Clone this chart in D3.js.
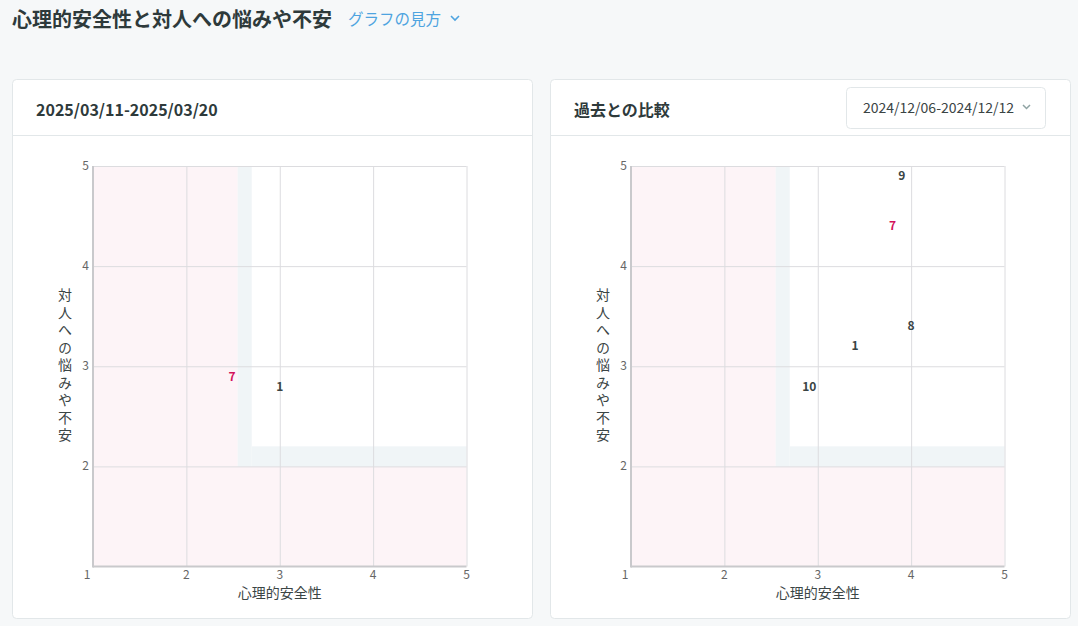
<!DOCTYPE html>
<html>
<head>
<meta charset="utf-8">
<script src="https://cdn.jsdelivr.net/npm/d3@7"></script>
<style>
  html, body { margin: 0; padding: 0; background: #f6f8f9; }
  svg { display: block; font-family: "Noto Sans CJK JP", "Noto Sans", sans-serif; }
</style>
</head>
<body>
<svg id="chart" width="1078" height="626"></svg>
<script>
// data
var axisTicks = [1, 2, 3, 4, 5];
var currentIds = ["7", "1"];
var currentX = [2.49, 3.0];
var currentY = [2.89, 2.79];
var compareIds = ["9", "7", "8", "1", "10"];
var compareX = [3.9, 3.8, 4.0, 3.4, 2.91];
var compareY = [4.9, 4.4, 3.4, 3.2, 2.79];
var highlightId = "7";
// zone limits (psychological safety / anxiety)
var safetyLow = 2.55, safetyBand = 2.7;
var anxietyLow = 2.0, anxietyBand = 2.2;

var svg = d3.select("#chart");

var textDark = "#2e3a3b";

// page title
svg.append("text").attr("x", 12).attr("y", 27)
    .attr("font-size", 20).attr("font-weight", 700).attr("fill", textDark)
    .text("心理的安全性と対人への悩みや不安");
svg.append("text").attr("x", 348).attr("y", 25)
    .attr("font-size", 15.5).attr("fill", "#4ea4e0")
    .text("グラフの見方");
svg.append("path").attr("d", "M451,16 l4,4 l4,-4")
    .attr("fill", "none").attr("stroke", "#4ea4e0").attr("stroke-width", 1.6);

function card(left, title) {
    var g = svg.append("g").attr("transform", "translate(" + left + ",79)");
    g.append("rect").attr("x", 0.5).attr("y", 0.5).attr("width", 520).attr("height", 539)
        .attr("rx", 4).attr("fill", "#fff").attr("stroke", "#e2e7e9");
    g.append("line").attr("x1", 1).attr("x2", 520).attr("y1", 56.5).attr("y2", 56.5)
        .attr("stroke", "#e2e7e9");
    g.append("text").attr("x", 24).attr("y", 37)
        .attr("font-size", 16).attr("font-weight", 700).attr("fill", textDark)
        .text(title);
    return g;
}

function scatter(g, ids, xs, ys) {
    var x = d3.scaleLinear().domain([1, 5]).range([81, 454.5]);
    var y = d3.scaleLinear().domain([1, 5]).range([487.5, 87]);

    var zones = g.append("g");
    // pink zones
    zones.append("rect").attr("x", x(1)).attr("y", y(5))
        .attr("width", x(safetyLow) - x(1)).attr("height", y(anxietyLow) - y(5))
        .attr("fill", "#fdf4f7");
    zones.append("rect").attr("x", x(1)).attr("y", y(anxietyLow))
        .attr("width", x(5) - x(1)).attr("height", y(1) - y(anxietyLow))
        .attr("fill", "#fdf4f7");
    // grey border band
    zones.append("rect").attr("x", x(safetyLow)).attr("y", y(5))
        .attr("width", x(safetyBand) - x(safetyLow)).attr("height", y(anxietyLow) - y(5))
        .attr("fill", "#f0f5f7");
    zones.append("rect").attr("x", x(safetyBand)).attr("y", y(anxietyBand))
        .attr("width", x(5) - x(safetyBand)).attr("height", y(anxietyLow) - y(anxietyBand))
        .attr("fill", "#f0f5f7");

    // grid
    g.append("g").selectAll("line.v").data(axisTicks.slice(1)).enter().append("line")
        .attr("x1", function(d){ return x(d) + 0.5; }).attr("x2", function(d){ return x(d) + 0.5; })
        .attr("y1", y(5)).attr("y2", y(1))
        .attr("stroke", "#dcdcdf");
    g.append("g").selectAll("line.h").data(axisTicks.slice(1)).enter().append("line")
        .attr("y1", function(d){ return y(d) + 0.5; }).attr("y2", function(d){ return y(d) + 0.5; })
        .attr("x1", x(1)).attr("x2", x(5))
        .attr("stroke", "#dcdcdf");

    // axis lines
    g.append("line").attr("x1", x(1)).attr("x2", x(1)).attr("y1", y(5)).attr("y2", y(1) + 1)
        .attr("stroke", "#c9c9cc").attr("stroke-width", 2);
    g.append("line").attr("x1", x(1)).attr("x2", x(5)).attr("y1", y(1)).attr("y2", y(1))
        .attr("stroke", "#c9c9cc").attr("stroke-width", 2);

    // tick labels
    g.append("g").selectAll("text").data(axisTicks).enter().append("text")
        .attr("x", function(d){ return d === 1 ? x(d) - 6 : x(d); })
        .attr("y", y(1) + 12)
        .attr("text-anchor", "middle").attr("font-size", 12).attr("fill", "#666")
        .text(function(d){ return d; });
    g.append("g").selectAll("text").data(axisTicks.slice(1)).enter().append("text")
        .attr("x", x(1) - 4).attr("y", function(d){ return y(d) + 4; })
        .attr("text-anchor", "end").attr("font-size", 12).attr("fill", "#666")
        .text(function(d){ return d; });

    // axis titles
    g.append("text").attr("x", (x(1) + x(5)) / 2).attr("y", 519)
        .attr("text-anchor", "middle").attr("font-size", 14).attr("fill", "#3b4545")
        .text("心理的安全性");
    g.append("text").attr("x", 53).attr("y", 209)
        .attr("writing-mode", "vertical-rl")
        .style("text-orientation", "upright")
        .attr("letter-spacing", 3.5)
        .attr("font-size", 14).attr("fill", "#3b4545")
        .text("対人への悩みや不安");

    // points as id labels
    g.append("g").selectAll("text").data(ids).enter().append("text")
        .attr("x", function(d, i){ return x(xs[i]); })
        .attr("y", function(d, i){ return y(ys[i]); })
        .attr("dy", "0.35em")
        .attr("text-anchor", "middle").attr("font-size", 12).attr("font-weight", 700)
        .attr("fill", function(d){ return d === highlightId ? "#d3135b" : "#3a4444"; })
        .text(function(d){ return d; });
}

var left = card(12, "2025/03/11-2025/03/20");
scatter(left, currentIds, currentX, currentY);

var right = card(550, "過去との比較");
// period select box
right.append("rect").attr("x", 296.5).attr("y", 8.5).attr("width", 199).attr("height", 41)
    .attr("rx", 4).attr("fill", "#fff").attr("stroke", "#e2e7e9");
right.append("text").attr("x", 313).attr("y", 34)
    .attr("font-size", 14).attr("fill", "#3a4444")
    .text("2024/12/06-2024/12/12");
right.append("path").attr("d", "M473,26 l3.5,3.5 l3.5,-3.5")
    .attr("fill", "none").attr("stroke", "#8fa3a3").attr("stroke-width", 1.5);
scatter(right, compareIds, compareX, compareY);
</script>
</body>
</html>
